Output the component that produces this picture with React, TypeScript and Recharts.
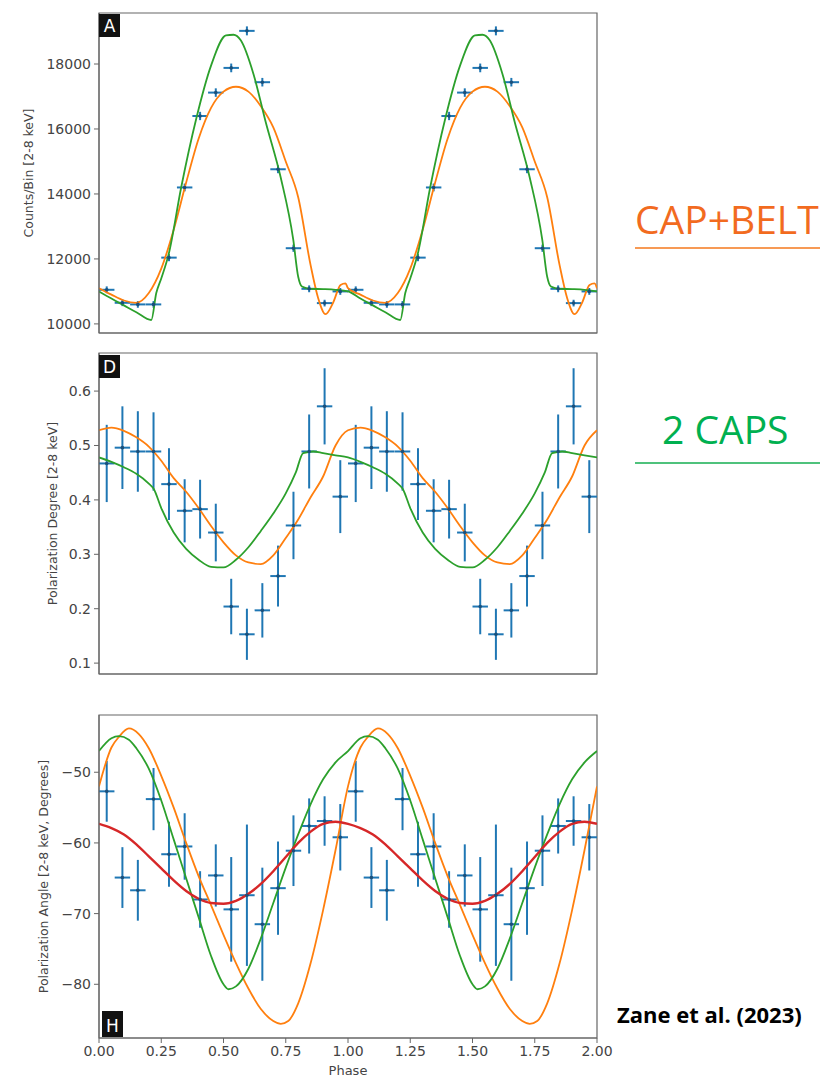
import React from "react";
import {
  ComposedChart,
  Line,
  Scatter,
  ErrorBar,
  XAxis,
  YAxis,
  ReferenceArea,
} from "recharts";

// phase bins (one cycle, the data are folded and shown twice)
const binPhase = [0.031, 0.094, 0.156, 0.219, 0.281, 0.344, 0.406, 0.469, 0.531, 0.594, 0.656, 0.719, 0.781, 0.844, 0.906, 0.969];
const binHalfWidth = [0.031, 0.031, 0.031, 0.031, 0.031, 0.031, 0.031, 0.031, 0.031, 0.031, 0.031, 0.031, 0.031, 0.031, 0.031, 0.031];

// A: counts
const counts = [11050, 10650, 10600, 10600, 12040, 14200, 16400, 17120, 17880, 19020, 17440, 14760, 12330, 11080, 10640, 11000];
const countsErr = [105, 103, 103, 103, 110, 120, 128, 131, 134, 138, 132, 121, 111, 105, 103, 105];

// D: polarization degree
const polDeg = [0.467, 0.496, 0.489, 0.489, 0.429, 0.38, 0.383, 0.34, 0.204, 0.153, 0.197, 0.26, 0.353, 0.489, 0.572, 0.406];
const polDegErr = [0.071, 0.076, 0.074, 0.072, 0.066, 0.058, 0.054, 0.053, 0.051, 0.047, 0.05, 0.056, 0.062, 0.068, 0.07, 0.067];

// H: polarization angle
const polAng = [-52.7, -64.9, -66.7, -53.8, -61.6, -60.5, -68.0, -64.6, -69.4, -67.4, -71.5, -66.4, -61.1, -57.6, -56.9, -59.2];
const polAngErr = [4.3, 4.3, 4.3, 4.4, 4.6, 4.7, 4.0, 4.4, 7.4, 10.0, 8.0, 6.6, 5.0, 3.9, 3.5, 4.7];

// model curves, one cycle each
const capBeltCountsPhase = [0, 0.05, 0.1, 0.15, 0.2, 0.25, 0.3, 0.35, 0.4, 0.45, 0.5, 0.55, 0.6, 0.65, 0.7, 0.75, 0.8, 0.85, 0.88, 0.91, 0.94, 0.97, 0.99, 1.0];
const capBeltCounts = [11100, 10900, 10720, 10650, 10950, 11700, 12900, 14350, 15700, 16650, 17150, 17300, 17150, 16700, 16050, 15000, 13900, 11800, 10800, 10300, 10650, 11200, 11250, 11100];

const twoCapsCountsPhase = [0, 0.05, 0.1, 0.15, 0.21, 0.23, 0.25, 0.28, 0.33, 0.39, 0.45, 0.51, 0.54, 0.57, 0.62, 0.67, 0.73, 0.78, 0.8, 0.815, 0.85, 0.9, 0.95, 1.0];
const twoCapsCounts = [11000, 10780, 10570, 10360, 10120, 10950, 11400, 12150, 14200, 16300, 17950, 18880, 18900, 18720, 17700, 16200, 14500, 12600, 11450, 11150, 11080, 11070, 11050, 11000];

const capBeltDegPhase = [0, 0.05, 0.1, 0.15, 0.2, 0.25, 0.3, 0.35, 0.4, 0.45, 0.5, 0.55, 0.6, 0.65, 0.7, 0.75, 0.8, 0.85, 0.9, 0.95, 1.0];
const capBeltDeg = [0.528, 0.533, 0.527, 0.515, 0.498, 0.472, 0.44, 0.415, 0.385, 0.352, 0.322, 0.298, 0.285, 0.282, 0.298, 0.33, 0.364, 0.405, 0.443, 0.5, 0.528];

const twoCapsDegPhase = [0, 0.05, 0.1, 0.15, 0.2, 0.22, 0.25, 0.3, 0.35, 0.4, 0.45, 0.5, 0.55, 0.6, 0.65, 0.7, 0.75, 0.79, 0.82, 0.86, 0.9, 0.95, 1.0];
const twoCapsDeg = [0.478, 0.47, 0.46, 0.448, 0.43, 0.42, 0.385, 0.34, 0.31, 0.29, 0.277, 0.276, 0.29, 0.313, 0.343, 0.375, 0.412, 0.45, 0.486, 0.489, 0.486, 0.482, 0.478];

const capBeltAngPhase = [0, 0.05, 0.08, 0.12, 0.16, 0.2, 0.25, 0.3, 0.35, 0.4, 0.45, 0.5, 0.55, 0.6, 0.65, 0.7, 0.73, 0.76, 0.8, 0.85, 0.9, 0.95, 1.0];
const capBeltAng = [-52, -46.5, -45.0, -43.8, -44.6, -46.6, -50.5, -55.0, -60.0, -64.7, -68.8, -73.0, -77.0, -80.6, -83.5, -85.2, -85.6, -85.2, -82.7, -77.0, -69.5, -61.0, -52];

const twoCapsAngPhase = [0, 0.05, 0.08, 0.12, 0.15, 0.2, 0.25, 0.3, 0.35, 0.4, 0.45, 0.5, 0.52, 0.55, 0.6, 0.65, 0.7, 0.75, 0.8, 0.85, 0.9, 0.95, 1.0];
const twoCapsAng = [-47.0, -45.2, -44.9, -45.4, -46.6, -49.5, -54.0, -59.5, -65.0, -70.5, -76.0, -80.0, -80.7, -80.3, -77.8, -73.5, -68.5, -63.5, -58.8, -54.5, -51.0, -48.6, -47.0];

const rvmAngPhase = [0, 0.05, 0.1, 0.15, 0.2, 0.25, 0.3, 0.35, 0.4, 0.45, 0.5, 0.55, 0.6, 0.65, 0.7, 0.75, 0.8, 0.85, 0.9, 0.95, 1.0];
const rvmAng = [-57.3, -57.9, -58.8, -60.2, -61.9, -63.6, -65.3, -66.8, -67.9, -68.5, -68.6, -68.2, -67.2, -65.8, -64.0, -62.0, -60.0, -58.4, -57.3, -57.0, -57.3];

const phaseTicks = [0, 0.25, 0.5, 0.75, 1, 1.25, 1.5, 1.75, 2];
const countsTicks = [10000, 12000, 14000, 16000, 18000];
const degTicks = [0.1, 0.2, 0.3, 0.4, 0.5, 0.6];
const angTicks = [-80, -70, -60, -50];

const BLUE = "#1f77b4";
const ORANGE = "#ff7f0e";
const GREEN = "#2ca02c";
const RED = "#d62728";
const FONT = "DejaVu Sans";

// folded data are plotted over two cycles
function curve(phase: number[], vals: number[]) {
  const out = phase.map((p, i) => ({ x: p, y: vals[i] }));
  phase.forEach((p, i) => {
    if (i > 0) out.push({ x: p + 1, y: vals[i] });
  });
  return out;
}

function points(vals: number[], err: number[]) {
  const out: { x: number; y: number; ex: number; ey: number }[] = [];
  [0, 1].forEach((c) =>
    binPhase.forEach((p, i) => out.push({ x: p + c, y: vals[i], ex: binHalfWidth[i], ey: err[i] }))
  );
  return out;
}

function AxisTitle(props: any) {
  const { viewBox, cx, text } = props;
  const cy = viewBox ? viewBox.y + viewBox.height / 2 : 0;
  return (
    <text
      x={cx}
      y={cy}
      transform={`rotate(-90, ${cx}, ${cy})`}
      textAnchor="middle"
      dominantBaseline="central"
      fontSize={12.5}
      fill="#444"
      fontFamily={FONT}
    >
      {text}
    </text>
  );
}

function PhaseTitle(props: any) {
  const { viewBox } = props;
  const cx = viewBox ? viewBox.x + viewBox.width / 2 : 348;
  return (
    <text x={cx} y={373} textAnchor="middle" fontSize={13} fill="#444" fontFamily={FONT}>
      Phase
    </text>
  );
}

const dot = (p: any) => <circle cx={p.cx} cy={p.cy} r={1.8} fill="#1b4f7a" />;

type PanelProps = {
  top: number;
  plotH: number;
  axisH: number;
  domain: [number, number];
  ticks: number[];
  fmt: (v: number) => string;
  title: string;
  titleX: number;
  data: { x: number; y: number; ex: number; ey: number }[];
  models: { data: { x: number; y: number }[]; color: string; width: number }[];
  showX: boolean;
};

function Panel(p: PanelProps) {
  return (
    <div style={{ position: "absolute", left: 0, top: p.top }}>
      <ComposedChart
        width={620}
        height={13 + p.plotH + p.axisH}
        margin={{ top: 13, right: 23, bottom: 0, left: 0 }}
      >
        <XAxis
          dataKey="x"
          type="number"
          domain={[0, 2]}
          ticks={phaseTicks}
          allowDataOverflow
          height={p.axisH}
          tickSize={5}
          tickMargin={3}
          stroke="#666"
          tick={p.showX ? { fill: "#444", fontSize: 14, fontFamily: FONT } : false}
          tickFormatter={(v: number) => v.toFixed(2)}
          label={p.showX ? <PhaseTitle /> : undefined}
        />
        <YAxis
          type="number"
          domain={p.domain}
          ticks={p.ticks}
          allowDataOverflow
          width={99}
          tickSize={5}
          tickMargin={3}
          stroke="#666"
          tick={{ fill: "#444", fontSize: 14, fontFamily: FONT }}
          tickFormatter={p.fmt}
          label={<AxisTitle cx={p.titleX} text={p.title} />}
        />
        <ReferenceArea x1={0} x2={2} y1={p.domain[0]} y2={p.domain[1]} fill="none" stroke="#666" strokeWidth={1.2} />
        <Scatter data={p.data} dataKey="y" shape={dot} isAnimationActive={false}>
          <ErrorBar dataKey="ex" direction="x" width={0} stroke={BLUE} strokeWidth={2} />
          <ErrorBar dataKey="ey" direction="y" width={0} stroke={BLUE} strokeWidth={2} />
        </Scatter>
        {p.models.map((m, i) => (
          <Line
            key={i}
            data={m.data}
            dataKey="y"
            type="monotone"
            dot={false}
            stroke={m.color}
            strokeWidth={m.width}
            isAnimationActive={false}
          />
        ))}
      </ComposedChart>
    </div>
  );
}

function Badge({ x, y, w, h, letter }: { x: number; y: number; w: number; h: number; letter: string }) {
  return (
    <g>
      <rect x={x} y={y} width={w} height={h} fill="#111" />
      <text x={x + w / 2} y={y + h - 5} textAnchor="middle" fontSize={17} fill="#fff" fontFamily={FONT}>
        {letter}
      </text>
    </g>
  );
}

export default function App() {
  return (
    <div style={{ position: "absolute", left: 0, top: 0, width: 820, height: 1078, background: "#fff", overflow: "hidden" }}>
      <Panel
        top={0}
        plotH={320}
        axisH={12}
        domain={[9720, 19570]}
        ticks={countsTicks}
        fmt={(v) => String(v)}
        title="Counts/Bin [2-8 keV]"
        titleX={28}
        data={points(counts, countsErr)}
        models={[
          { data: curve(capBeltCountsPhase, capBeltCounts), color: ORANGE, width: 1.8 },
          { data: curve(twoCapsCountsPhase, twoCapsCounts), color: GREEN, width: 1.8 },
        ]}
        showX={false}
      />
      <Panel
        top={340}
        plotH={321}
        axisH={12}
        domain={[0.08, 0.67]}
        ticks={degTicks}
        fmt={(v) => v.toFixed(1)}
        title="Polarization Degree [2-8 keV]"
        titleX={52}
        data={points(polDeg, polDegErr)}
        models={[
          { data: curve(capBeltDegPhase, capBeltDeg), color: ORANGE, width: 1.8 },
          { data: curve(twoCapsDegPhase, twoCapsDeg), color: GREEN, width: 1.8 },
        ]}
        showX={false}
      />
      <Panel
        top={702}
        plotH={323}
        axisH={40}
        domain={[-87.6, -41.9]}
        ticks={angTicks}
        fmt={(v) => String(v).replace("-", "\u2212")}
        title="Polarization Angle [2-8 keV, Degrees]"
        titleX={43}
        data={points(polAng, polAngErr)}
        models={[
          { data: curve(capBeltAngPhase, capBeltAng), color: ORANGE, width: 1.8 },
          { data: curve(twoCapsAngPhase, twoCapsAng), color: GREEN, width: 1.8 },
          { data: curve(rvmAngPhase, rvmAng), color: RED, width: 2.4 },
        ]}
        showX={true}
      />
      <svg width={820} height={1078} style={{ position: "absolute", left: 0, top: 0, pointerEvents: "none" }}>
        <Badge x={99} y={14} w={21} h={23} letter="A" />
        <Badge x={99} y={355} w={21} h={23} letter="D" />
        <Badge x={102} y={1011} w={21} h={26} letter="H" />
        <text x={635} y={234} fontSize={39} fill="#f26b1f" fontFamily="Open Sans">CAP+BELT</text>
        <line x1={635} x2={820} y1={248} y2={248} stroke="#f79a55" strokeWidth={2} />
        <text x={662} y={444} fontSize={39} fill="#00b050" fontFamily="Open Sans">2 CAPS</text>
        <line x1={635} x2={820} y1={463} y2={463} stroke="#4fc27c" strokeWidth={2} />
        <text x={617} y={1023} fontSize={22} fontWeight="bold" fill="#000" fontFamily="Open Sans">Zane et al. (2023)</text>
      </svg>
    </div>
  );
}
